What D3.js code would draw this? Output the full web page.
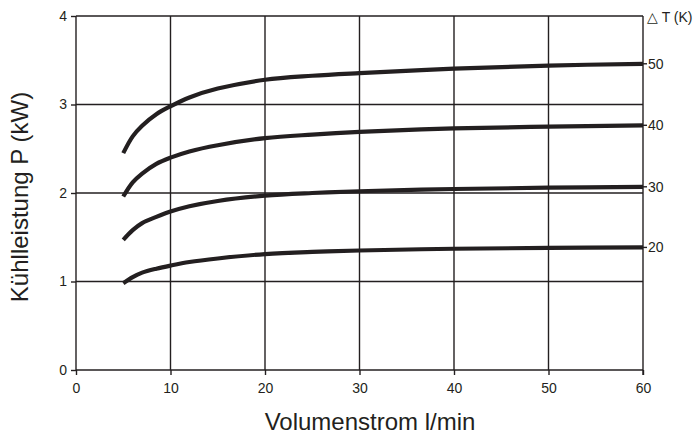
<!DOCTYPE html>
<html><head><meta charset="utf-8">
<script src="https://cdn.jsdelivr.net/npm/d3@7/dist/d3.min.js"></script>
<style>body{margin:0;background:#fff}svg{display:block}</style>
</head><body>
<script>
const flowX = [5, 6, 7, 8.5, 10, 12, 15, 20, 25, 30, 40, 50, 60];
const dT20 = [0.98, 1.05, 1.10, 1.145, 1.18, 1.22, 1.26, 1.31, 1.335, 1.35, 1.37, 1.38, 1.385];
const dT30 = [1.47, 1.58, 1.66, 1.73, 1.79, 1.85, 1.91, 1.97, 2.0, 2.02, 2.045, 2.06, 2.07];
const dT40 = [1.96, 2.12, 2.22, 2.33, 2.40, 2.47, 2.54, 2.62, 2.66, 2.69, 2.73, 2.75, 2.765];
const dT50 = [2.45, 2.64, 2.76, 2.89, 2.98, 3.08, 3.18, 3.28, 3.325, 3.355, 3.405, 3.44, 3.46];
const seriesLabels = ["20", "30", "40", "50"];
const xTicks = [0, 10, 20, 30, 40, 50, 60];
const yTicks = [0, 1, 2, 3, 4];
const series = [dT20, dT30, dT40, dT50];

const W = 697, H = 437;
const x = d3.scaleLinear().domain([0, 60]).range([76, 643]);
const y = d3.scaleLinear().domain([0, 4]).range([370, 16]);
const ink = "#231f20", font = "Liberation Sans, Arial, sans-serif";

const svg = d3.select("body").append("svg").attr("width", W).attr("height", H);

// grid
const g = svg.append("g").attr("stroke", ink).attr("stroke-width", 1.4);
xTicks.forEach(t => g.append("line").attr("x1", x(t)).attr("x2", x(t)).attr("y1", y(4)).attr("y2", y(0)));
yTicks.forEach(t => g.append("line").attr("x1", x(0)).attr("x2", x(60)).attr("y1", y(t)).attr("y2", y(t)));

// left axis
const ya = svg.append("g").attr("transform", `translate(${x(0)},0)`)
  .call(d3.axisLeft(y).tickValues(yTicks).tickSize(5).tickPadding(4).tickFormat(d3.format("d")));
ya.select(".domain").remove();
ya.selectAll("line").attr("stroke", ink).attr("stroke-width", 1.4);
ya.selectAll("text").attr("font-family", font).attr("font-size", 14).attr("fill", ink);

// bottom axis
const xa = svg.append("g").attr("transform", `translate(0,${y(0)})`)
  .call(d3.axisBottom(x).tickValues(xTicks).tickSize(5).tickPadding(8).tickFormat(d3.format("d")));
xa.select(".domain").remove();
xa.selectAll("line").attr("stroke", ink).attr("stroke-width", 1.4);
xa.selectAll("text").attr("font-family", font).attr("font-size", 14).attr("fill", ink);

// right axis extension
svg.append("line").attr("x1", x(60)).attr("x2", x(60)).attr("y1", y(0)).attr("y2", y(0) + 5)
  .attr("stroke", ink).attr("stroke-width", 1.4);

// curves
const line = d3.line().x((d, i) => x(flowX[i])).y(d => y(d)).curve(d3.curveCatmullRom.alpha(0.5));
series.forEach((s, k) => {
  svg.append("path").attr("d", line(s)).attr("fill", "none").attr("stroke", ink)
    .attr("stroke-width", 4.2).attr("stroke-linecap", "butt");
  const last = s[s.length - 1];
  svg.append("line").attr("x1", x(60)).attr("x2", x(60) + 4).attr("y1", y(last)).attr("y2", y(last))
    .attr("stroke", ink).attr("stroke-width", 1.4);
  svg.append("text").attr("x", x(60) + 5).attr("y", y(last) + 5).text(seriesLabels[k])
    .attr("font-family", font).attr("font-size", 14).attr("fill", ink);
});

svg.append("text").attr("x", 647).attr("y", 22).text("\u25B3 T (K)")
  .attr("font-family", font).attr("font-size", 14).attr("fill", ink);

svg.append("text").attr("x", 370).attr("y", 430).attr("text-anchor", "middle")
  .text("Volumenstrom l/min").attr("font-family", font).attr("font-size", 24).attr("fill", ink);

svg.append("text").attr("transform", "translate(28,197) rotate(-90)").attr("text-anchor", "middle")
  .text("Kühlleistung P (kW)").attr("font-family", font).attr("font-size", 24).attr("fill", ink);
</script>
</body></html>
